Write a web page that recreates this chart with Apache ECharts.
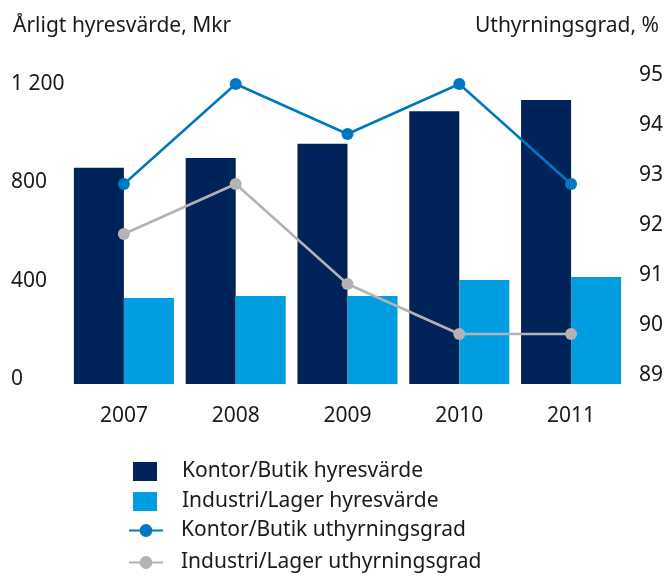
<!DOCTYPE html>
<html>
<head>
<meta charset="utf-8">
<script src="https://cdn.jsdelivr.net/npm/echarts@6/dist/echarts.min.js"></script>
<style>
  html, body { margin: 0; padding: 0; background: #fff; }
  #chart { width: 667px; height: 577px; }
</style>
</head>
<body>
<div id="chart"></div>
<script>
  // år
  var years = ['2007', '2008', '2009', '2010', '2011'];
  // hyresvärde, Mkr
  var kontorHyra = [880, 920, 978, 1110, 1156];
  var industriHyra = [350, 358, 358, 423, 435];
  // uthyrningsgrad, %
  var kontorGrad = [93, 95, 94, 95, 93];
  var industriGrad = [92, 93, 91, 90, 90];
  var leftTicks = [0, 400, 800, 1200];

  var font = '"Noto Sans", sans-serif';
  var fs = 21;
  var chart = echarts.init(document.getElementById('chart'));

  chart.setOption({
    animation: false,
    textStyle: { fontFamily: font, color: '#1a1a1a' },
    title: [
      { text: 'Årligt hyresvärde, Mkr', left: 8, top: 11,
        textStyle: { fontFamily: font, fontSize: fs, fontWeight: 'normal', color: '#1a1a1a' } },
      { text: 'Uthyrningsgrad, %', right: 3, top: 11,
        textStyle: { fontFamily: font, fontSize: fs, fontWeight: 'normal', color: '#1a1a1a' } }
    ],
    grid: { left: 68, right: 40, top: 84, bottom: 193 },
    xAxis: {
      type: 'category',
      data: years,
      axisLine: { show: false },
      axisTick: { show: false },
      axisLabel: { fontSize: fs, color: '#1a1a1a', margin: 22 }
    },
    yAxis: [
      {
        type: 'value', min: 0, max: 1221, interval: 400,
        splitLine: { show: false },
        axisLabel: {
          fontSize: fs, color: '#1a1a1a', align: 'left', margin: 57,
          verticalAlign: 'bottom', lineHeight: 10,
          formatter: function (v) {
            if (leftTicks.indexOf(v) < 0) return '';
            return v >= 1000 ? '1 ' + String(v).slice(1) : String(v);
          }
        }
      },
      {
        type: 'value', min: 89, max: 95, interval: 1,
        splitLine: { show: false },
        axisLabel: {
          fontSize: fs, color: '#1a1a1a', align: 'right', margin: 36,
          verticalAlign: 'bottom', lineHeight: 18
        }
      }
    ],
    legend: [
      {
        orient: 'vertical', left: 133, top: 461, padding: 0,
        itemWidth: 24, itemHeight: 19, itemGap: 9,
        icon: 'rect',
        selectedMode: false,
        textStyle: { fontSize: fs, lineHeight: 21, color: '#1a1a1a', padding: [0, 0, 0, 20] },
        data: ['Kontor/Butik hyresvärde', 'Industri/Lager hyresvärde']
      },
      {
        orient: 'vertical', left: 128, top: 520, padding: 0,
        itemWidth: 34, itemHeight: 16, itemGap: 11,
        selectedMode: false,
        textStyle: { fontSize: fs, lineHeight: 21, color: '#1a1a1a', padding: [0, 0, 0, 13] },
        data: ['Kontor/Butik uthyrningsgrad', 'Industri/Lager uthyrningsgrad']
      }
    ],
    series: [
      {
        name: 'Kontor/Butik hyresvärde', type: 'bar', data: kontorHyra,
        barGap: 0, barCategoryGap: '10.5%',
        itemStyle: { color: '#00235a' }
      },
      {
        name: 'Industri/Lager hyresvärde', type: 'bar', data: industriHyra,
        itemStyle: { color: '#009ee0' }
      },
      {
        name: 'Industri/Lager uthyrningsgrad', type: 'line', yAxisIndex: 1, data: industriGrad,
        symbol: 'circle', symbolSize: 12,
        lineStyle: { color: '#b3b3b3', width: 2.5 },
        itemStyle: { color: '#b3b3b3', borderWidth: 0 }
      },
      {
        name: 'Kontor/Butik uthyrningsgrad', type: 'line', yAxisIndex: 1, data: kontorGrad,
        symbol: 'circle', symbolSize: 12,
        lineStyle: { color: '#0078c1', width: 2.5 },
        itemStyle: { color: '#0078c1', borderWidth: 0 }
      }
    ]
  });
</script>
</body>
</html>
